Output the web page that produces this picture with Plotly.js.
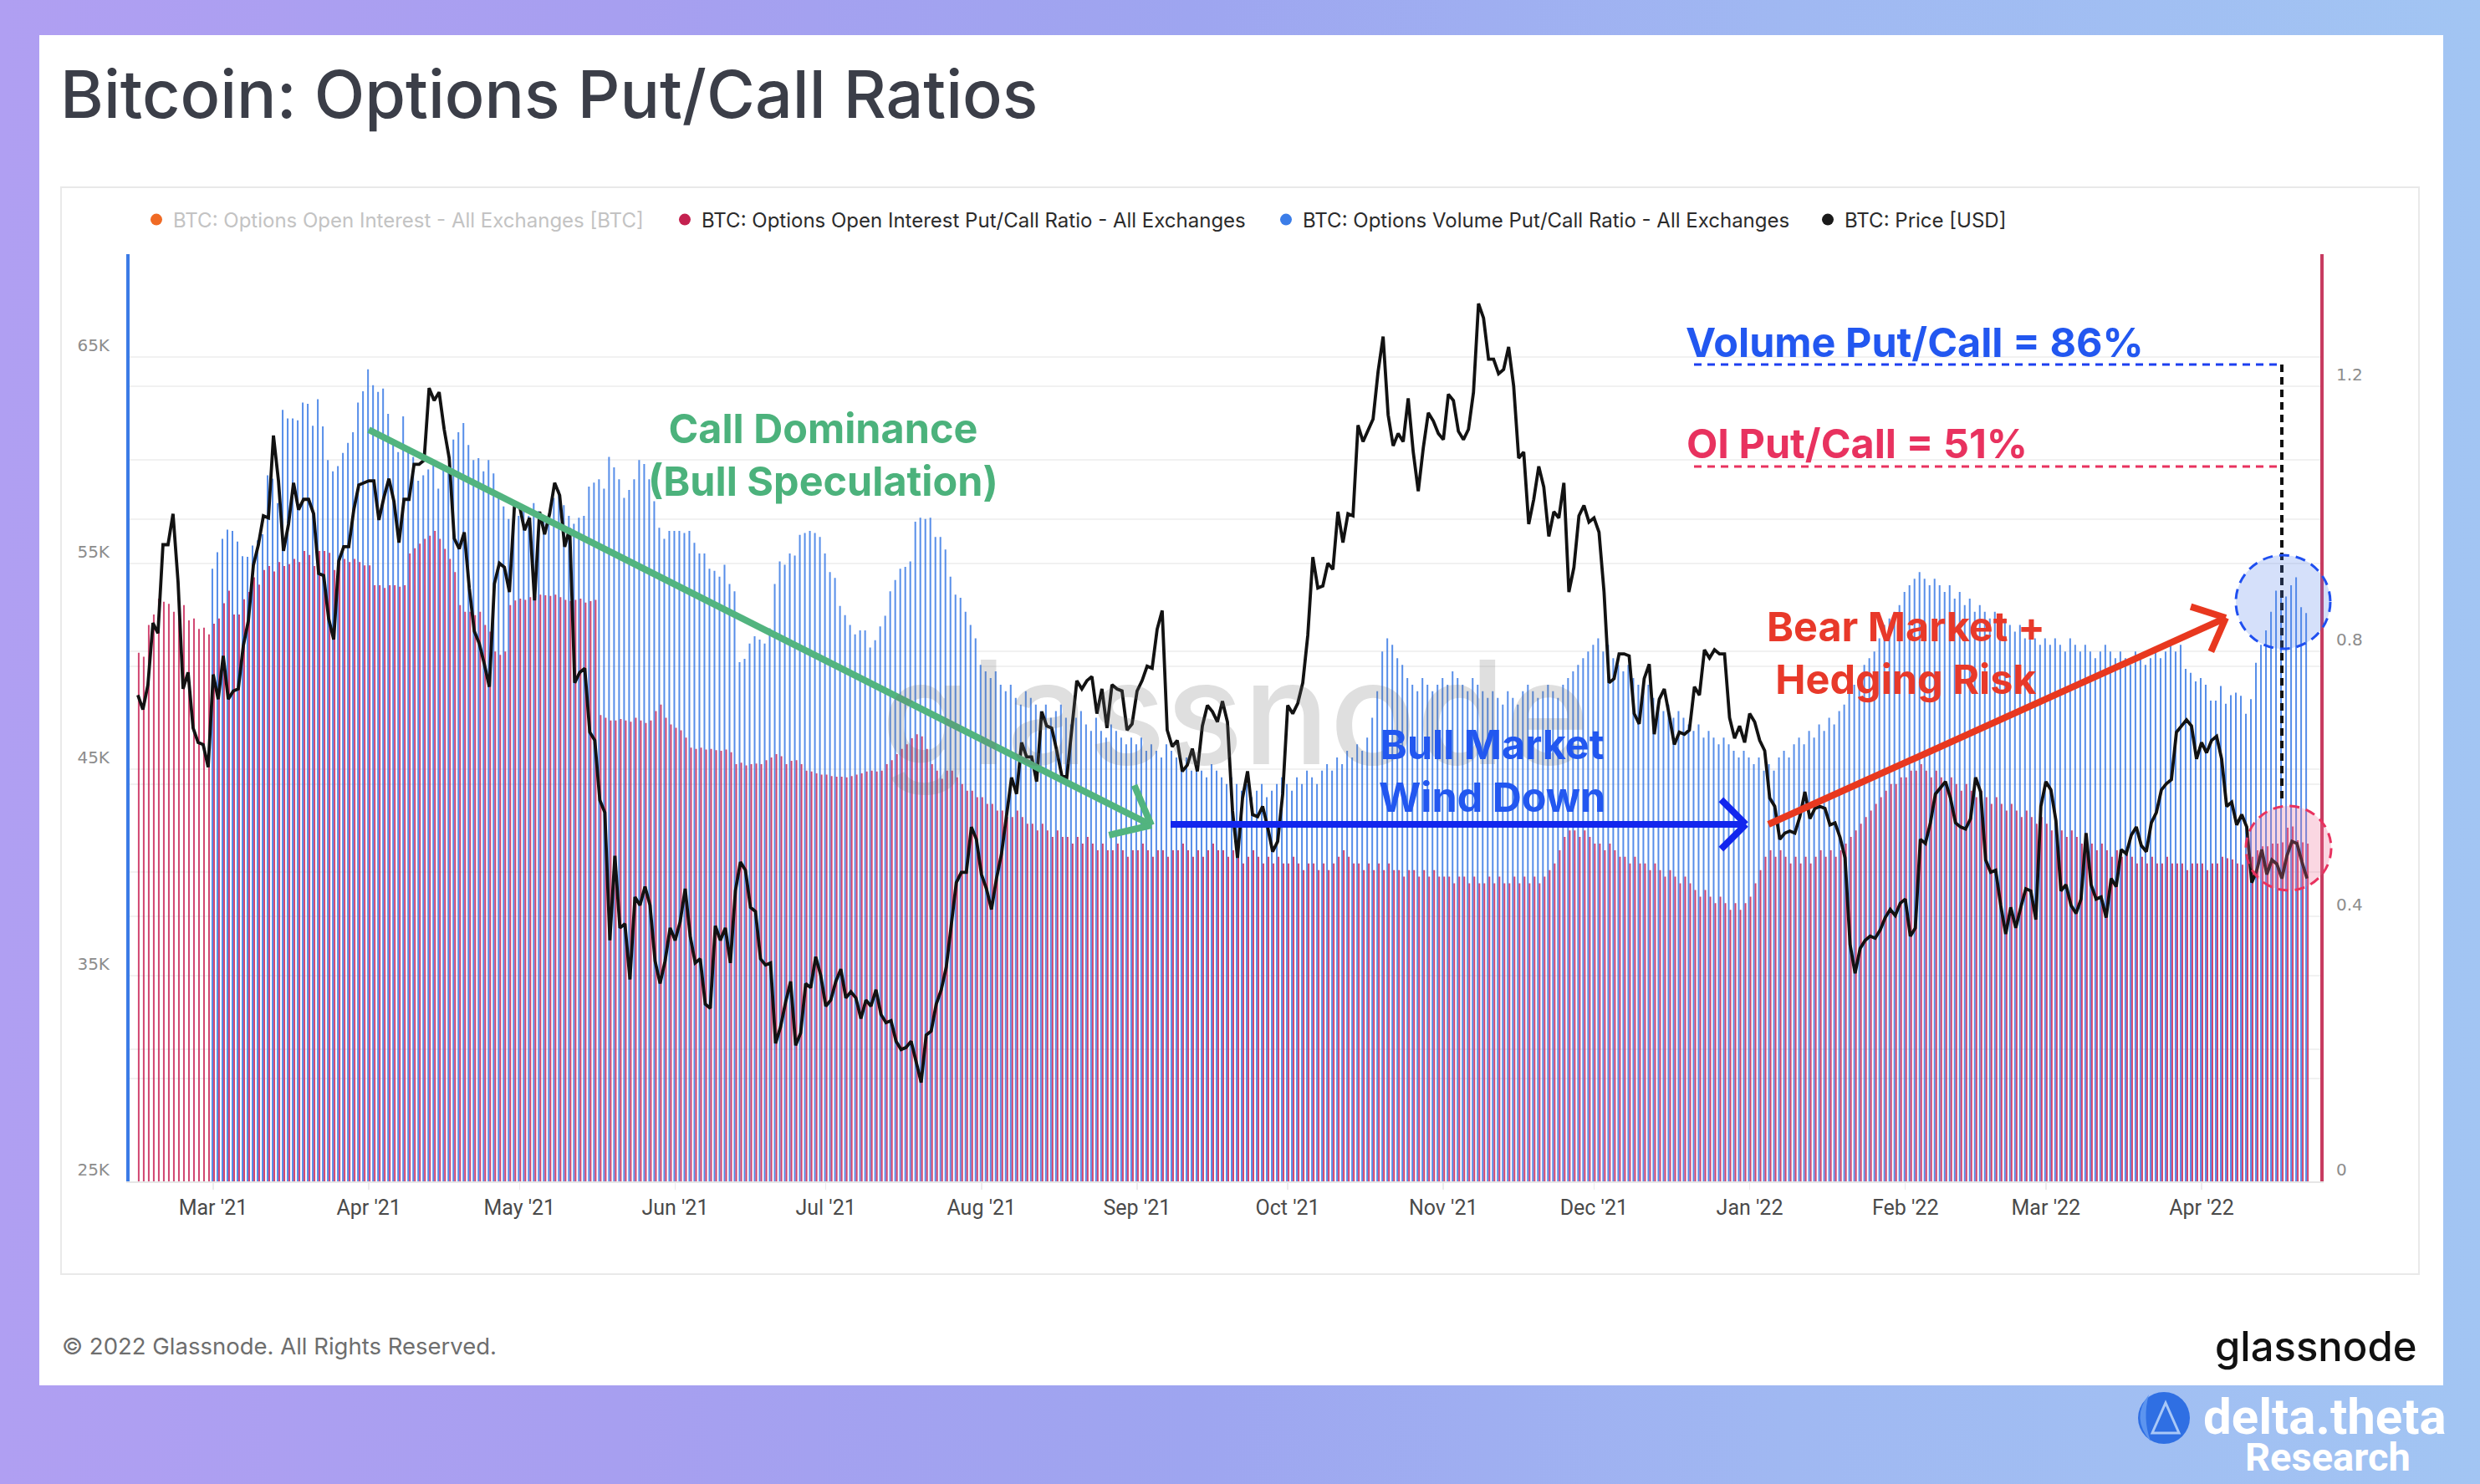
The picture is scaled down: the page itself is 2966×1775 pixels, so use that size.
<!DOCTYPE html>
<html><head><meta charset="utf-8">
<script src="https://cdn.plot.ly/plotly-3.0.1.min.js"></script>
<style>
html,body{margin:0;padding:0;width:2966px;height:1775px;overflow:hidden;}
body{background:linear-gradient(90deg,#b09ff2 0%,#a79ff0 25%,#9ea5f0 48%,#a0b8f2 72%,#a2c5f3 100%);position:relative;}
#card{position:absolute;left:47px;top:42px;width:2875px;height:1615px;background:#fff;}
#box{position:absolute;left:72px;top:223px;width:2818px;height:1298px;border:2px solid #e9e9e9;}
#chart{position:absolute;left:0;top:0;width:2966px;height:1775px;}
</style></head><body>
<div id="card"></div><div id="box"></div><div id="chart"></div>
<script>
// ---------------- DATA ----------------
const priceStart = '2021-02-14';   // first day of price and OI put/call series
const volStart = '2021-03-01';     // first day of volume put/call series

// BTC price [USD, thousands], daily
const priceK = [
48.6,47.9,49.1,52.1,51.6,55.9,55.9,57.4,54.1,48.9,49.7,47.0,46.3,46.2,45.1,
49.6,48.4,50.5,48.4,48.8,48.9,51.0,52.2,54.9,55.9,57.3,57.2,61.2,59.0,55.6,56.9,58.9,57.6,58.1,58.1,57.4,54.5,54.4,52.3,51.3,55.1,55.8,55.8,57.6,58.8,58.9,
59.0,59.0,57.1,58.2,59.1,58.0,56.0,58.1,58.1,59.8,59.8,60.0,63.5,62.9,63.3,61.5,60.1,56.2,55.7,56.5,53.8,51.7,51.1,50.1,49.0,54.0,55.0,54.8,53.6,57.8,
57.8,56.6,57.2,53.2,57.5,56.4,57.4,58.9,58.3,55.8,56.7,49.2,49.7,49.9,46.8,46.4,43.5,42.9,36.7,40.8,37.3,37.5,34.8,38.8,38.4,39.3,38.4,35.7,34.6,35.7,37.3,
36.7,37.6,39.2,36.9,35.6,35.8,33.6,33.4,37.4,36.7,37.3,35.6,39.1,40.5,40.1,38.3,38.1,35.8,35.5,35.6,31.7,32.5,33.7,34.7,31.6,32.2,34.6,34.4,35.9,35.0,
33.5,33.8,34.7,35.3,33.9,34.2,33.9,32.9,33.8,33.5,34.3,33.1,32.7,32.8,31.8,31.4,31.5,31.8,30.8,29.8,32.1,32.3,33.6,34.3,35.4,37.3,39.5,40.0,40.0,42.2,41.6,
39.9,39.2,38.2,39.7,40.9,42.8,44.6,43.8,46.3,45.6,45.6,44.4,47.8,47.1,47.0,45.9,44.7,44.6,46.8,49.3,48.9,49.3,49.5,47.7,48.9,47.0,49.1,48.9,48.8,46.9,47.2,
48.8,49.3,50.0,49.9,51.8,52.7,46.9,46.1,46.4,44.9,45.2,46.0,44.9,47.1,48.1,47.8,47.3,48.3,47.3,43.0,40.7,43.6,44.9,42.8,42.7,43.2,42.2,41.0,41.5,43.8,
48.1,47.7,48.2,49.2,51.5,55.3,53.8,53.9,55.0,54.7,57.5,56.0,57.4,57.3,61.7,60.9,61.5,62.0,64.3,66.0,62.2,60.7,61.3,60.9,63.0,60.4,58.5,60.6,62.3,61.9,61.3,
61.0,63.2,62.9,61.4,61.0,61.5,63.3,67.6,66.9,64.9,64.9,64.2,64.4,65.5,63.6,60.1,60.4,56.9,58.1,59.7,58.7,56.3,57.5,57.2,58.9,53.6,54.8,57.3,57.8,57.0,
57.2,56.5,53.6,49.2,49.4,50.6,50.6,50.5,47.7,47.2,49.4,50.1,46.7,48.4,48.9,47.6,46.2,46.8,46.7,46.9,49.0,48.6,50.8,50.4,50.8,50.6,50.6,47.5,46.5,47.1,46.3,
47.7,47.3,46.4,45.9,43.6,43.2,41.6,41.9,42.0,41.9,42.7,43.9,42.6,43.1,43.2,43.1,42.3,42.4,41.7,40.7,36.5,35.1,36.3,36.7,36.9,36.8,37.2,37.8,38.2,37.9,38.5,
38.7,36.9,37.3,41.6,41.4,42.4,43.8,44.1,44.4,43.6,42.4,42.2,42.1,42.6,44.6,43.9,40.6,40.0,40.1,38.4,37.0,38.3,37.3,38.3,39.2,39.1,37.7,43.2,
44.4,44.0,42.5,39.1,39.4,38.4,38.0,38.7,41.9,39.4,38.7,38.8,37.8,39.7,39.3,41.1,40.9,41.8,42.2,41.3,41.0,42.4,42.9,44.0,44.3,44.5,46.8,47.1,47.4,47.1,45.5,
46.3,45.8,46.4,46.6,45.5,43.2,43.4,42.3,42.8,42.2,39.5,40.1,41.1,39.9,40.6,40.4,39.7,40.8,41.5,41.4,40.5,39.7
];

// Options Open Interest Put/Call Ratio, daily from priceStart
const oiPutCall = [
0.798,0.792,0.84,0.856,0.88,0.875,0.872,0.86,0.87,0.87,0.847,0.85,0.834,0.836,0.826,
0.842,0.85,0.873,0.892,0.856,0.856,0.879,0.89,0.912,0.901,0.923,0.929,0.921,0.935,0.929,0.932,0.94,0.935,0.952,0.946,0.929,0.952,0.952,0.949,0.923,0.935,0.94,0.935,0.94,0.935,0.93,
0.93,0.9,0.9,0.896,0.9,0.9,0.898,0.9,0.948,0.956,0.963,0.97,0.975,0.982,0.97,0.955,0.94,0.92,0.87,0.86,0.86,0.855,0.86,0.84,0.83,0.8,0.795,0.8,0.87,0.877,
0.88,0.878,0.882,0.884,0.886,0.885,0.884,0.886,0.882,0.878,0.876,0.878,0.88,0.874,0.876,0.878,0.704,0.70,0.696,0.696,0.698,0.696,0.694,0.70,0.696,0.692,0.696,0.71,0.72,0.70,0.69,
0.685,0.681,0.67,0.655,0.653,0.655,0.652,0.653,0.651,0.65,0.652,0.648,0.63,0.632,0.628,0.63,0.631,0.63,0.636,0.64,0.645,0.642,0.63,0.635,0.636,0.63,0.62,0.619,0.616,0.614,
0.614,0.612,0.611,0.611,0.61,0.612,0.614,0.616,0.619,0.62,0.619,0.62,0.63,0.636,0.645,0.653,0.66,0.669,0.675,0.672,0.653,0.63,0.62,0.608,0.62,0.62,0.61,0.6,0.59,0.59,0.58,
0.58,0.57,0.57,0.56,0.56,0.55,0.55,0.56,0.55,0.54,0.54,0.53,0.54,0.53,0.52,0.53,0.52,0.52,0.51,0.52,0.51,0.52,0.51,0.5,0.51,0.5,0.5,0.51,0.5,0.49,0.5,
0.5,0.51,0.5,0.49,0.5,0.5,0.49,0.5,0.5,0.51,0.5,0.49,0.5,0.49,0.5,0.51,0.5,0.5,0.49,0.5,0.49,0.48,0.49,0.5,0.49,0.48,0.49,0.48,0.49,0.48,
0.48,0.49,0.48,0.47,0.48,0.48,0.47,0.48,0.47,0.48,0.49,0.5,0.49,0.48,0.48,0.47,0.48,0.47,0.48,0.47,0.48,0.47,0.47,0.46,0.47,0.47,0.46,0.47,0.46,0.47,0.46,
0.46,0.46,0.45,0.46,0.46,0.45,0.46,0.45,0.45,0.46,0.45,0.46,0.45,0.45,0.46,0.45,0.46,0.45,0.46,0.45,0.46,0.47,0.48,0.5,0.52,0.53,0.53,0.52,0.53,0.52,
0.51,0.51,0.5,0.51,0.5,0.49,0.49,0.48,0.49,0.48,0.48,0.47,0.48,0.47,0.46,0.47,0.46,0.45,0.46,0.45,0.44,0.43,0.44,0.43,0.42,0.43,0.42,0.41,0.42,0.41,0.42,
0.43,0.45,0.47,0.49,0.5,0.49,0.5,0.49,0.48,0.49,0.48,0.49,0.48,0.49,0.5,0.49,0.5,0.49,0.5,0.51,0.52,0.53,0.54,0.55,0.56,0.57,0.58,0.59,0.6,0.6,0.61,
0.61,0.62,0.62,0.63,0.62,0.61,0.62,0.61,0.6,0.61,0.6,0.59,0.6,0.59,0.58,0.59,0.58,0.57,0.58,0.57,0.56,0.57,0.56,0.55,0.56,0.55,0.54,0.55,
0.54,0.53,0.54,0.53,0.52,0.53,0.52,0.51,0.52,0.51,0.5,0.51,0.5,0.49,0.5,0.49,0.5,0.49,0.48,0.49,0.48,0.49,0.48,0.48,0.49,0.48,0.48,0.48,0.47,0.48,0.48,
0.48,0.47,0.48,0.48,0.49,0.488,0.486,0.48,0.478,0.485,0.49,0.5,0.506,0.506,0.51,0.51,0.512,0.534,0.536,0.515,0.512,0.51
];

// Options Volume Put/Call Ratio, daily from volStart
const volPutCall = [
0.925,0.95,0.97,0.984,0.982,0.966,0.944,0.943,0.96,0.968,0.977,1.066,1.061,1.024,1.165,1.152,1.152,1.149,1.176,1.174,1.141,1.181,1.14,1.089,1.072,1.08,1.1,1.115,1.131,1.176,1.193,
1.226,1.202,1.192,1.197,1.159,1.12,1.101,1.155,1.106,1.094,1.058,1.066,1.075,1.081,1.046,1.078,1.072,1.12,1.131,1.145,1.112,1.089,1.092,1.072,1.089,1.069,1.039,1.019,1.0,0.987,
1.005,1.019,1.005,1.024,1.012,1.005,1.005,1.032,1.044,1.021,1.005,0.993,1.002,1.005,1.049,1.055,1.06,1.046,1.094,1.078,1.06,1.032,1.044,1.06,1.089,1.083,1.06,1.027,0.987,0.97,0.982,
0.982,0.982,0.979,0.982,0.964,0.948,0.948,0.925,0.922,0.913,0.931,0.902,0.891,0.784,0.789,0.812,0.823,0.818,0.812,0.835,0.902,0.936,0.931,0.948,0.945,0.976,0.979,0.982,0.979,0.973,
0.948,0.92,0.911,0.869,0.855,0.84,0.826,0.832,0.832,0.806,0.817,0.838,0.854,0.891,0.908,0.925,0.928,0.936,0.996,1.002,1.0,1.002,0.973,0.973,0.954,0.913,0.886,0.881,0.86,0.84,0.82,
0.78,0.77,0.76,0.77,0.75,0.74,0.75,0.73,0.72,0.74,0.73,0.72,0.71,0.72,0.7,0.71,0.72,0.7,0.69,0.7,0.71,0.69,0.68,0.7,0.68,0.67,0.69,0.68,0.67,0.66,0.67,
0.66,0.67,0.65,0.66,0.65,0.64,0.66,0.65,0.64,0.63,0.64,0.62,0.63,0.62,0.61,0.63,0.62,0.61,0.6,0.61,0.6,0.59,0.6,0.58,0.59,0.6,0.58,0.59,0.6,0.61,
0.6,0.59,0.61,0.6,0.62,0.61,0.6,0.62,0.63,0.62,0.64,0.63,0.65,0.64,0.66,0.65,0.67,0.7,0.74,0.8,0.82,0.81,0.79,0.78,0.76,0.75,0.74,0.76,0.75,0.74,0.75,
0.76,0.75,0.77,0.76,0.75,0.74,0.76,0.75,0.74,0.73,0.74,0.73,0.72,0.74,0.73,0.72,0.74,0.75,0.74,0.73,0.74,0.75,0.74,0.73,0.75,0.76,0.77,0.78,0.79,0.8,
0.81,0.82,0.8,0.81,0.79,0.78,0.77,0.78,0.76,0.75,0.74,0.75,0.73,0.72,0.71,0.72,0.7,0.71,0.7,0.69,0.68,0.69,0.67,0.68,0.67,0.66,0.67,0.66,0.65,0.64,0.65,
0.64,0.63,0.64,0.62,0.63,0.62,0.64,0.65,0.64,0.66,0.67,0.66,0.68,0.67,0.69,0.68,0.7,0.69,0.71,0.72,0.74,0.75,0.76,0.78,0.79,0.8,0.82,0.84,0.85,0.86,0.87,
0.89,0.9,0.91,0.92,0.91,0.9,0.91,0.9,0.89,0.9,0.88,0.89,0.87,0.88,0.86,0.87,0.86,0.85,0.86,0.84,0.85,0.84,0.83,0.84,0.82,0.83,0.82,0.81,
0.82,0.81,0.82,0.81,0.8,0.82,0.81,0.8,0.81,0.8,0.79,0.8,0.81,0.8,0.79,0.8,0.79,0.78,0.8,0.79,0.78,0.79,0.8,0.79,0.8,0.81,0.8,0.81,0.774,0.768,0.755,
0.76,0.75,0.726,0.726,0.748,0.721,0.734,0.738,0.733,0.706,0.728,0.783,0.81,0.832,0.86,0.892,0.89,0.883,0.9,0.912,0.867,0.858
];

const xTickFormat = "%b '%y";
const priceTickVals = [25, 35, 45, 55, 65];
const priceTickText = ['25K', '35K', '45K', '55K', '65K'];
const ratioTickVals = [0, 0.4, 0.8, 1.2];
const ratioTickText = ['0', '0.4', '0.8', '1.2'];

const legendNames = [
  'BTC: Options Open Interest - All Exchanges [BTC]',
  'BTC: Options Open Interest Put/Call Ratio - All Exchanges',
  'BTC: Options Volume Put/Call Ratio - All Exchanges',
  'BTC: Price [USD]'
];

// ---------------- HELPERS ----------------
function dayList(start, n) {
  const p = start.split('-').map(Number);
  const t0 = Date.UTC(p[0], p[1] - 1, p[2]);
  const out = [];
  for (let i = 0; i < n; i++) out.push(new Date(t0 + i * 86400000).toISOString().slice(0, 10));
  return out;
}
const priceDates = dayList(priceStart, priceK.length);
const oiDates = dayList(priceStart, oiPutCall.length);
const volDates = dayList(volStart, volPutCall.length);

// pixel -> paper coordinates (plot area: x 155..2775, y 304..1413)
const PL = 155, PR = 2775, PT = 304, PB = 1413;
const px = x => (x - PL) / (PR - PL);
const py = y => (PB - y) / (PB - PT);

function seg(x0, y0, x1, y1, color, width, dash) {
  return {type: 'line', xref: 'paper', yref: 'paper', x0: px(x0), y0: py(y0), x1: px(x1), y1: py(y1),
    line: {color: color, width: width, dash: dash || 'solid'}, layer: 'above'};
}
function arrow(x0, y0, x1, y1, color, width, headLen, headAng) {
  const back = Math.atan2(y0 - y1, x0 - x1);
  const a = headAng * Math.PI / 180;
  return [
    seg(x0, y0, x1, y1, color, width),
    seg(x1, y1, x1 + headLen * Math.cos(back + a), y1 + headLen * Math.sin(back + a), color, width),
    seg(x1, y1, x1 + headLen * Math.cos(back - a), y1 + headLen * Math.sin(back - a), color, width)
  ];
}
function ellipse(x0, y0, x1, y1, fill, color) {
  return {type: 'circle', xref: 'paper', yref: 'paper', x0: px(x0), x1: px(x1), y0: py(y1), y1: py(y0),
    fillcolor: fill, line: {color: color, width: 3, dash: '12px,8px'}, layer: 'above'};
}
function note(x, y, text, size, color, opts) {
  return Object.assign({xref: 'paper', yref: 'paper', x: px(x), y: py(y), text: text, showarrow: false,
    xanchor: 'center', yanchor: 'middle', font: {family: 'Inter, Roboto, sans-serif', size: size, color: color, weight: 700}}, opts || {});
}

// ---------------- TRACES ----------------
const blue = '#3a7be6', red = '#c9285a';
const traces = [
  {type: 'bar', x: volDates, y: volPutCall, yaxis: 'y', marker: {color: blue, line: {width: 0}}, opacity: 0.85,
   showlegend: false, hoverinfo: 'skip'},
  {type: 'bar', x: oiDates, y: oiPutCall, yaxis: 'y', marker: {color: red, line: {width: 0}}, opacity: 0.85,
   showlegend: false, hoverinfo: 'skip'},
  {type: 'scatter', mode: 'lines', x: priceDates, y: priceK, yaxis: 'y2', line: {color: '#121212', width: 3.8},
   showlegend: false, hoverinfo: 'skip'},
  // legend entries
  {type: 'scatter', mode: 'markers', x: [null], y: [null], legend: 'legend',
   name: '<span style="color:#c3c3c3">' + legendNames[0] + '</span>', marker: {color: '#f06a24', size: 14}},
  {type: 'scatter', mode: 'markers', x: [null], y: [null], legend: 'legend2', name: legendNames[1], marker: {color: '#c4214f', size: 14}},
  {type: 'scatter', mode: 'markers', x: [null], y: [null], legend: 'legend3', name: legendNames[2], marker: {color: '#3b7de8', size: 14}},
  {type: 'scatter', mode: 'markers', x: [null], y: [null], legend: 'legend4', name: legendNames[3], marker: {color: '#1a1a1a', size: 14}}
];

function leg(dotX) {
  return {orientation: 'h', x: px(dotX - 20), xanchor: 'left', y: py(263), yanchor: 'middle',
    bgcolor: 'rgba(0,0,0,0)', borderwidth: 0, itemclick: false, itemdoubleclick: false,
    font: {family: 'Inter, Roboto, sans-serif', size: 24, color: '#2b2b2b'}};
}

const shapes = [].concat(
  arrow(441, 514, 1377, 987, '#52b47f', 8, 52, 40),
  arrow(1400, 986, 2088, 986, '#1226ee', 8, 42, 45),
  arrow(2115, 986, 2662, 739, '#e8381f', 8, 44, 42),
  [
    seg(2026, 436, 2729, 436, '#1c3ff0', 3, '9px,7px'),
    seg(2026, 558, 2729, 558, '#e8325f', 3, '9px,7px'),
    seg(2729, 436, 2729, 957, '#111111', 4, '9px,6px'),
    ellipse(2674, 664, 2787, 776, 'rgba(80,125,235,0.24)', '#1f4ff0'),
    ellipse(2686, 964, 2788, 1065, 'rgba(236,110,150,0.28)', '#e8325f'),
    // delta.theta badge
    {type: 'circle', xref: 'paper', yref: 'paper', x0: px(2557), x1: px(2619), y0: py(1727), y1: py(1665),
     fillcolor: '#2f6fe3', line: {width: 0}, layer: 'above'},
    {type: 'path', xref: 'paper', yref: 'paper', layer: 'above', fillcolor: '#5c94ef', line: {width: 0},
     path: 'M ' + px(2570) + ' ' + py(1668) + ' Q ' + px(2548) + ' ' + py(1696) + ' ' + px(2572) + ' ' + py(1724) +
           ' Q ' + px(2562) + ' ' + py(1696) + ' ' + px(2570) + ' ' + py(1668) + ' Z'},
    {type: 'path', xref: 'paper', yref: 'paper', layer: 'above', fillcolor: 'rgba(0,0,0,0)',
     line: {color: '#a9c8f7', width: 3},
     path: 'M ' + px(2574) + ' ' + py(1714) + ' L ' + px(2590) + ' ' + py(1678) + ' L ' + px(2606) + ' ' + py(1714) + ' Z'}
  ]
);

const annotations = [
  note(1478, 851, 'glassnode', 172, 'rgba(110,110,110,0.22)', {font: {family: 'Inter, sans-serif', size: 172, color: 'rgba(110,110,110,0.22)', weight: 500}}),
  note(984, 544, 'Call Dominance<br>(Bull Speculation)', 48.5, '#4cb27c'),
  note(1784, 922, 'Bull Market<br>Wind Down', 48.5, '#2257f0'),
  note(2279, 781, 'Bear Market +<br>Hedging Risk', 48.5, '#e8392a'),
  note(2014, 409, 'Volume Put/Call = 86%', 48.5, '#2257f0', {xanchor: 'left'}),
  note(2015, 530, 'OI Put/Call = 51%', 48.5, '#e8325f', {xanchor: 'left'}),
  note(72, 1610, '© 2022 Glassnode. All Rights Reserved.', 27.5, '#6e6e6e',
       {xanchor: 'left', font: {family: 'Inter, sans-serif', size: 27.5, color: '#6e6e6e', weight: 400}}),
  note(2892, 1610, 'glassnode', 49, '#111111',
       {xanchor: 'right', font: {family: 'Inter, sans-serif', size: 49, color: '#111111', weight: 500}}),
  note(2633, 1694, 'delta.theta', 60, '#ffffff',
       {xanchor: 'left', height: 52, valign: 'middle', font: {family: 'Roboto, sans-serif', size: 60, color: '#ffffff', weight: 700}}),
  note(2885, 1742, 'Research', 47, '#ffffff',
       {xanchor: 'right', height: 42, valign: 'middle', font: {family: 'Roboto, sans-serif', size: 47, color: '#ffffff', weight: 700}})
];

const layout = {
  width: 2966, height: 1775, autosize: false,
  margin: {l: PL, r: 2966 - PR, t: PT, b: 1775 - PB, pad: 0},
  paper_bgcolor: 'rgba(0,0,0,0)', plot_bgcolor: 'rgba(0,0,0,0)',
  title: {text: 'Bitcoin: Options Put/Call Ratios', xref: 'container', x: 72 / 2966, xanchor: 'left',
    yref: 'container', y: 1 - 113 / 1775, yanchor: 'middle',
    font: {family: 'Inter, sans-serif', size: 79, color: '#3b3e48', weight: 500}},
  barmode: 'group', bargap: 0.33, bargroupgap: 0,
  hovermode: false,
  xaxis: {type: 'date', range: ['2021-02-12 08:24', '2022-04-24 15:36'], tickformat: xTickFormat,
    dtick: 'M1', tick0: '2021-03-01', ticks: 'outside', ticklen: 8, tickwidth: 1.5, tickcolor: '#ececec',
    showgrid: false, showline: true, linecolor: '#e6e6e6', linewidth: 2, zeroline: false,
    tickfont: {family: 'Roboto, sans-serif', size: 25, color: '#4a4a4a'}},
  yaxis: {side: 'right', range: [0, 1.4], tickmode: 'array', tickvals: ratioTickVals, ticktext: ratioTickText,
    ticks: '', showline: true, linecolor: '#c73b60', linewidth: 4, zeroline: false,
    showgrid: true, gridcolor: '#f1f1f1', gridwidth: 2,
    minor: {tickmode: 'linear', tick0: 0, dtick: 0.2, showgrid: true, gridcolor: '#f1f1f1', gridwidth: 2, ticks: ''},
    ticklabelposition: 'outside top', ticklabelstandoff: 11,
    tickfont: {family: 'DejaVu Sans, sans-serif', size: 20, color: '#8c8c8c'}},
  yaxis2: {side: 'left', overlaying: 'y', range: [25, 70], tickmode: 'array', tickvals: priceTickVals, ticktext: priceTickText,
    ticks: '', showline: true, linecolor: '#3b7be6', linewidth: 4, zeroline: false,
    showgrid: true, gridcolor: '#f1f1f1', gridwidth: 2,
    minor: {tickmode: 'linear', tick0: 25, dtick: 5, showgrid: true, gridcolor: '#f1f1f1', gridwidth: 2, ticks: ''},
    ticklabelposition: 'outside top', ticklabelstandoff: 16,
    tickfont: {family: 'DejaVu Sans, sans-serif', size: 20, color: '#8c8c8c'}},
  legend: leg(187), legend2: leg(819), legend3: leg(1538), legend4: leg(2186),
  shapes: shapes,
  annotations: annotations
};

Plotly.newPlot('chart', traces, layout, {staticPlot: true, displayModeBar: false});
</script>
</body></html>
